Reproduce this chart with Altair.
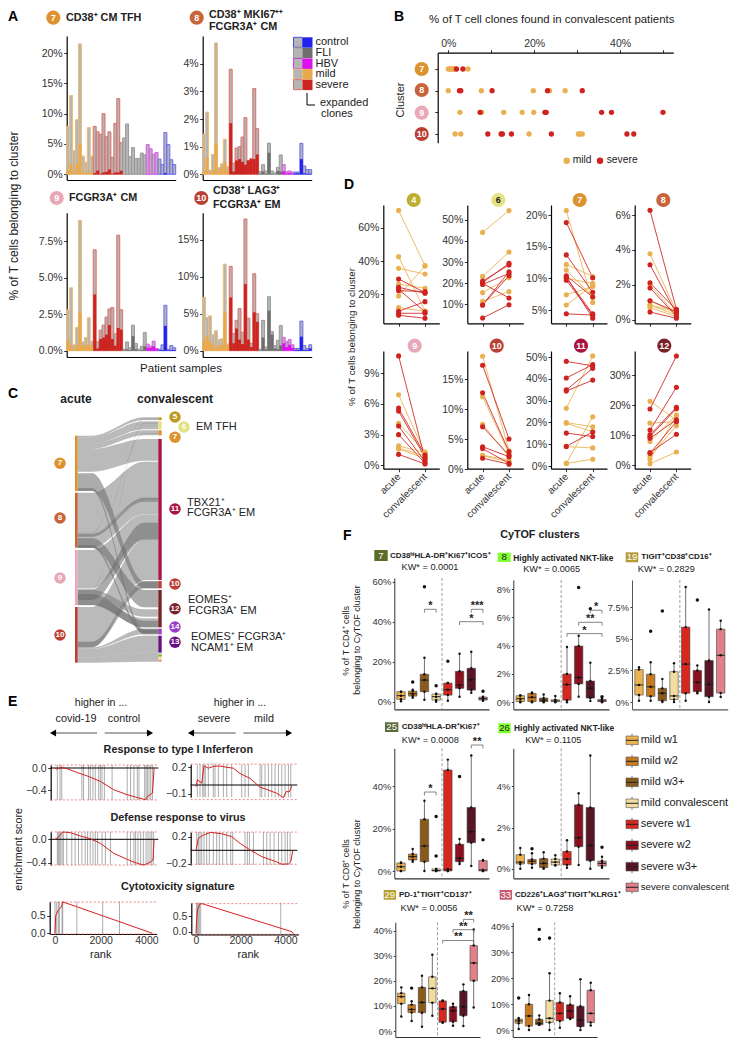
import altair as alt
import pandas as pd

FONT = "Liberation Sans"
W, H = 722, 1030
ONE = pd.DataFrame({"n": [0]})
L = []

CC = {4: "#bdb030", 5: "#c09a20", 6: "#e3e382", 7: "#dd9230", 8: "#c9633a", 9: "#e8a8b8",
      10: "#b94033", 11: "#a81540", 12: "#7a2028", 13: "#6a0f80", 14: "#9a3ec8"}
MILD, SEVERE = "#e9b04f", "#cf2320"

# ---------------------------------------------------------------- panel A data
A_GROUPS = ["mild"] * 9 + ["severe"] * 10 + ["FLI"] * 8 + ["HBV"] * 4 + ["control"] * 6
A7_TOTAL = [7.9, 13, 3.9, 9, 21.5, 3, 2, 7.7, 3, 7.9, 7, 6.6, 10, 6.2, 7, 2.8, 8.4, 12.5, 5.2,
            6.0, 8.3, 2.9, 4.4, 2.6, 2.6, 3.5, 3.2, 4.9, 4.2, 3.3, 3.6, 2.5, 1.6, 6.9, 4.9, 2.4, 1.6]
A7_EXP = [0.7, 1.7, 0.2, 1.7, 5.0, 0.3, 0.2, 0.5, 0.2, 0.2, 0.6, 0.1, 0.3, 0.4, 0.8, 0.1, 0.3, 0.3, 0.6,
          0, 0, 0, 0, 0, 0, 0, 0, 0, 0, 0, 0, 0, 0, 0.2, 0, 0, 0]
A8_TOTAL = [1.45, 2.25, 0.15, 0.72, 4.75, 0.25, 0.38, 1.27, 0.27, 3.8, 0.4, 0.95, 1.0, 1.35, 2.05, 0.5, 0.57, 3.1, 1.65,
            0.1, 0.35, 0.12, 1.13, 0.12, 0.05, 0.25, 0.7, 0.35, 0.1, 0.12, 0.08, 0.08, 0.08, 1.12, 0.3, 0.17, 0.17]
A8_EXP = [0.1, 0.6, 0.03, 0.15, 1.1, 0.1, 0.25, 0.45, 0.1, 1.85, 0.1, 0.5, 0.55, 0.45, 0.35, 0.5, 0.55, 0.55, 0.72,
          0.02, 0.1, 0.02, 0.78, 0.02, 0, 0.12, 0.1, 0.1, 0.03, 0.05, 0.02, 0.03, 0.03, 0.55, 0.03, 0.02, 0.02]
A9_TOTAL = [2.8, 4.3, 0.4, 1.6, 8.9, 0.6, 0.9, 2.25, 0.65, 6.9, 0.6, 1.4, 1.75, 2.3, 2.85, 2.95, 1.15, 7.9, 2.8,
            0.1, 0.6, 0.2, 1.75, 0.5, 0.1, 0.3, 1.25, 0.45, 0.3, 0.65, 0.15, 0.1, 0.4, 3.1, 0.1, 0.35, 0.2]
A9_EXP = [0.7, 0.35, 0.1, 0.35, 2.6, 0.35, 0.35, 0.45, 0.3, 3.85, 0.15, 0.8, 0.9, 1.1, 1.75, 0.8, 0.35, 1.55, 1.45,
          0.02, 0.1, 0.05, 1.0, 0.1, 0.02, 0.05, 0.3, 0.2, 0.2, 0.3, 0.1, 0.03, 0.05, 1.7, 0.03, 0.05, 0.05]
A10_TOTAL = [7.2, 4.5, 4.7, 2.2, 2.7, 1.5, 1.6, 11.7, 0.9, 11.4, 2.3, 4.1, 5.7, 2.5, 17.8, 4.4, 1.0, 10.4, 5.0,
             0.2, 4.1, 0.5, 7.3, 2.6, 0.7, 1.4, 3.4, 1.8, 1.2, 1.5, 0.8, 0.3, 0.3, 4.0, 0.7, 0.3, 0.8]
A10_EXP = [1.3, 2.0, 1.2, 0.8, 0.3, 0.7, 0.8, 5.2, 0.7, 7.2, 1.0, 3.0, 1.5, 0.9, 9.0, 1.5, 0.5, 5.2, 3.9,
           0.05, 1.8, 0.2, 5.4, 2.2, 0.3, 0.2, 0.7, 1.0, 0.5, 0.8, 0.4, 0.1, 0.1, 1.9, 0.1, 0.1, 0.3]
A_NAMES = ["mild", "severe", "FLI", "HBV", "control"]
A_OUT = ["#ecbd78", "#dc7068", "#999999", "#dd55ee", "#6a6aee"]
A_FILL = ["#e8a94c", "#cc2420", "#6e6e6e", "#dd11ee", "#2222ee"]

# ---------------------------------------------------------------- panel B data
B_MILD = [(0, 0), (0, 0.3), (0, 0.6), (0, 1), (0, 1.3), (0, 1.6), (0, 4.6),
          (1, 0), (1, 7.7), (1, 19.8), (1, 23.6), (1, 27.2),
          (2, 2.7), (2, 7.8), (2, 12.9), (2, 17.2), (2, 19.9),
          (3, 1.6), (3, 2.9), (3, 18.8), (3, 30.3), (3, 30.6), (3, 31.2)]
B_SEVERE = [(0, 1.9), (0, 3.4),
            (1, 2.6), (1, 2.9), (1, 10.2), (1, 23.1), (1, 31.2),
            (2, 7.4), (2, 22.5), (2, 22.8), (2, 35.7), (2, 38), (2, 50),
            (3, 9.2), (3, 12.3), (3, 12.6), (3, 14.7), (3, 24), (3, 41.6), (3, 43.2)]

# ---------------------------------------------------------------- panel C data
FLOWS = [(197, 203, 142, 150), (203, 222, 154, 178), (222, 237, 181, 196), (237, 305, 207, 272),
         (368, 487, 275, 392), (492, 533, 393, 432), (540, 655, 433, 508), (711, 832, 510, 630),
         (660, 680, 718, 740), (680, 705, 745, 772),
         (836, 862, 797, 847), (862, 878, 847, 875), (832, 836, 776, 793),
         (487, 489, 146, 148), (656, 657, 165, 166), (533, 534, 190, 191), (705, 706, 160, 161)]
DARK_FLOWS = [(310, 362, 633, 655), (505, 533, 660, 712), (658, 690, 458, 510), (672, 705, 752, 772),
              (815, 832, 635, 655), (488, 500, 383, 395), (355, 363, 776, 793), (525, 533, 780, 790)]
LEFT_NODES = [(197, 363, 7), (368, 533, 8), (540, 705, 9), (711, 878, 10)]
RIGHT_NODES = [(142, 150, 5), (154, 178, 6), (181, 196, 7), (207, 630, 11), (633, 655, 10),
               (660, 772, 12), (776, 793, 14), (797, 847, 13)]
RIGHT_SMALL = [(847, 850, "#3b7fc4"), (853, 860, "#b5a020"), (863, 866, "#e8b060"), (869, 875, "#f09070")]

# ---------------------------------------------------------------- panel D data
D4_M = [(70.4, 37.2), (42.6, 10), (35.6, 32.2), (26.2, 23.6), (19, 37), (12, 9.8)]
D4_S = [(29.2, 21), (24.2, 20.6), (23, 9.4), (22.2, 21.6), (9.8, 15.6), (8.6, 8.6), (7.4, 5.6)]
D6_M = [(44, 54.3), (23.2, 34.7), (15.5, 22.6), (11.4, 16)]
D6_S = [(21, 28.6), (20.2, 29.4), (19.4, 24.6), (9.7, 23.5), (9.7, 25.4), (19.9, 13), (3.5, 9.8)]
D7_M = [(20.7, 6.2), (12.2, 10.3), (11.3, 7.1), (10, 9.2), (7.4, 8.7), (5.8, 8.9)]
D7_S = [(18.8, 10.1), (13.7, 7.8), (10.4, 7.05), (10.1, 4.4), (9.7, 4.2), (4.4, 4.2), (10.3, 3.7)]
D8_M = [(3.77, 0.46), (2, 0.27), (1.09, 0.36), (0.84, 0.27), (0.7, 0.17), (0.84, 0.46)]
D8_S = [(6.27, 0.6), (3.15, 0.36), (2.12, 0.55), (1.82, 0.21), (1.09, 0.46), (0.44, 0.08)]
D9_M = [(6.9, 1.17), (4.1, 1.3), (1.9, 1.24), (1.7, 0.92), (1.6, 0.68)]
D9_S = [(10.7, 0.6), (5.6, 1.0), (5.3, 0.78), (3.85, 0.36), (3.0, 0.2), (1.07, 0.13)]
D10_M = [(18.8, 3.05), (12.05, 2.6), (7.45, 2.05), (2.3, 1.5), (2.2, 1.2)]
D10_S = [(17.3, 5), (12.7, 2.9), (7.05, 2.3), (3.7, 2.05), (3.4, 0.95), (1.8, 0.8)]
D11_M = [(26.5, 50.5), (19.9, 18), (19.6, 15.7), (8.9, 8.3), (1.2, 22.6), (1.2, 3.1)]
D11_S = [(48, 45.9), (40.4, 46.5), (34.9, 44.8), (34.4, 39.4), (15.1, 13.5), (9, 15.6)]
D12_M = [(21.3, 15), (14, 14.5), (7.9, 16.7), (2.9, 13.1), (2, 16.4), (0.55, 4.4)]
D12_S = [(18.7, 36.3), (11.7, 25.9), (10.1, 19.3), (9.5, 18.8), (9, 15.1), (4.2, 10.3), (4, 14.5)]

# ---------------------------------------------------------------- panel E data
E1_RANK = [0, 74, 294, 515, 956, 1397, 1985, 2573, 3160, 3602, 3969, 4043, 4263, 4307, 4337]
E1_ES = [0, -0.02, 0.01, -0.01, -0.08, -0.14, -0.24, -0.39, -0.48, -0.53, -0.57, -0.51, -0.45, -0.21, 0.01]
E1_HITS = [103, 220, 294, 1176, 1250, 1470, 1544, 1661, 1764, 1911, 1985, 2058, 2161, 2499, 3160, 3308,
           3455, 3602, 3675, 3925, 3984, 4043, 4116, 4190, 4263]
E2_RANK = [0, 60, 254, 358, 552, 776, 1075, 1374, 1672, 1971, 2419, 2867, 3165, 3613, 3912, 4031, 4180, 4285]
E2_ES = [-0.02, 0.06, 0.02, 0.215, 0.19, 0.21, 0.215, 0.2, 0.19, 0.13, 0.075, -0.026, -0.05, -0.094, -0.143, -0.075, -0.075, -0.011]
E2_HITS = [60, 179, 299, 358, 418, 552, 776, 851, 1000, 1224, 1374, 1598, 2045, 2195, 2344, 2867, 2941,
           3090, 3240, 3389, 3538, 3688, 3837, 3986, 4135, 4240]
E3_RANK = [0, 147, 338, 662, 1103, 1544, 1985, 2573, 3160, 3602, 3896, 4116, 4292, 4337]
E3_ES = [0, 0.034, 0.126, 0.114, 0.057, 0.011, -0.069, -0.24, -0.343, -0.411, -0.44, -0.4, -0.354, 0]
E3_HITS = [103, 147, 191, 250, 309, 367, 514, 735, 882, 1029, 1176, 1323, 1426, 1544, 1661, 1764, 1867,
           2058, 2205, 2426, 3160, 3308, 3455, 3528, 3631, 3749, 3866, 3984, 4072, 4160, 4234, 4307]
E4_RANK = [0, 105, 328, 657, 1150, 1598, 1971, 2419, 2941, 3613, 3837, 4135, 4240, 4330]
E4_ES = [0, 0.176, 0.224, 0.263, 0.244, 0.2, 0.102, 0.005, -0.093, -0.171, -0.205, -0.2, -0.166, -0.005]
E4_HITS = [30, 105, 179, 254, 358, 478, 597, 776, 925, 1045, 1194, 1374, 1553, 1643, 2195, 2299, 2389,
           2568, 3016, 3165, 3314, 3493, 3688, 3837, 3986, 4090, 4210]
E5_RANK = [0, 30, 147, 250, 294, 338, 956, 4263]
E5_ES = [0, 0.5, 0.66, 0.72, 0.78, 0.89, 0.755, 0]
E5_HITS = [0, 74, 147, 191, 309, 338, 956, 2087, 2822]
E6_RANK = [0, 30, 60, 179, 269, 4285, 4360]
E6_ES = [-0.05, 0.4, 0.69, 0.88, 0.894, 0, -0.07]
E6_HITS = [30, 60, 105, 149, 209, 3792]

# ---------------------------------------------------------------- panel F data  (lo, q1, med, q3, hi, outliers)
BOX_NAMES = ["mild w1", "mild w2", "mild w3+", "mild convalescent", "severe w1", "severe w2", "severe w3+", "severe convalescent"]
BOX_COLORS = ["#edb350", "#c77a20", "#8a5a1a", "#f2dca0", "#d6281f", "#8b1020", "#571526", "#e08088"]
F7 = [(0.2, 1.2, 3, 5, 5, []), (2, 2.8, 4, 5.3, 6, [9.8]), (1, 5, 10.8, 13.7, 22, [57.5]), (0, 0.8, 2.5, 3.8, 4, [8]),
      (0.5, 3.3, 6, 9.3, 9.3, [20.2]), (2.5, 6.7, 8.3, 15.2, 24, []), (4.5, 5.8, 11, 16.7, 25, []), (0.5, 0.8, 1.5, 2.3, 2.5, [5.2])]
F8 = [(0, 0.05, 0.25, 0.47, 0.5, []), (0, 0.05, 0.35, 0.63, 0.7, []), (0, 0.05, 0.15, 0.3, 0.55, []), (0, 0.05, 0.1, 0.18, 0.45, []),
      (0, 0.15, 1.25, 2.0, 3.9, []), (0.4, 1.3, 1.75, 3.97, 4.7, [8.1]), (0.1, 0.3, 1.0, 1.5, 2.8, [6.6]), (0, 0.05, 0.1, 0.2, 0.25, [0.4])]
F19 = [(0.1, 0.55, 1.35, 2.57, 2.75, []), (0.1, 0.45, 1.2, 2.2, 3.15, [5.6]), (0, 0.1, 0.7, 1.08, 1.83, [7.2]), (0, 0.2, 0.48, 2.4, 3.07, []),
       (0.1, 0.69, 3, 5.93, 9.1, []), (0.7, 0.82, 1.56, 2.5, 2.9, [8.07]), (0, 0.42, 1.4, 3.28, 7.33, []), (0.4, 0.71, 3.7, 5.77, 6.43, [])]
F25 = [(0, 0, 2, 3.8, 4, []), (4.4, 5.2, 6.8, 8, 10.4, []), (0, 4.4, 11.8, 24.4, 33.2, []), (0, 0, 0.2, 1, 1, [25.7, 7.1]),
       (0, 0, 0.8, 47.7, 52.6, []), (3.3, 4.4, 6, 12.6, 15.1, [44.6]), (2.4, 13.4, 18.6, 30, 54.5, []), (0, 0, 0.5, 4.9, 5.2, [14.8])]
F26 = [(0, 0.23, 0.32, 0.68, 1, []), (0.05, 0.23, 0.36, 0.45, 0.75, [0.97]), (0, 0.05, 0.26, 0.49, 0.8, []), (0.15, 0.18, 0.32, 0.47, 0.65, []),
       (0.05, 0.18, 0.47, 0.84, 1.38, []), (0.18, 1.07, 1.5, 3.1, 3.66, []), (0, 0.39, 1.13, 2.97, 5.5, []), (0.05, 0.13, 0.26, 0.37, 0.58, [1.04])]
F29 = [(5.8, 10.9, 13.7, 15.1, 17.4, []), (4, 7.4, 8.6, 10.5, 11.9, [17.1]), (1.7, 7.3, 11.4, 17.4, 22, []), (6.1, 11.3, 17, 21.6, 30.4, []),
       (3.3, 3.5, 8.8, 12, 12.2, []), (2.1, 3.7, 8.1, 9.7, 10.9, []), (2, 6.1, 9.7, 15.9, 18.6, []), (9.4, 20, 27.1, 34.1, 40.5, [])]
F33 = [(0.4, 2.6, 3.5, 4.2, 4.6, [12.3]), (0, 1.5, 5.4, 9.9, 13.5, []), (2, 2, 2.6, 4.1, 5.6, [38.7, 34.9]), (0, 2.9, 4.5, 11.3, 21.8, [35.4]),
       (0.9, 3.5, 6.4, 10.6, 14.1, []), (4.2, 4.5, 7.3, 9.7, 13, []), (0, 1.3, 3.8, 9.1, 19.5, []), (1.7, 2.9, 6.4, 15.3, 18.2, [])]
# brackets: first box, last box, height, tip height, stars
F7_BR = [(3, 4, 46.2, 44.5, "*"), (7, 8, 46.2, 44.5, "***"), (6, 8, 40, 38.3, "*")]
F8_BR = [(7, 8, 6.5, 6.27, "*"), (6, 8, 5.65, 5.42, "**"), (5, 8, 4.85, 4.62, "*")]
F25_BR = [(3, 4, 37.3, 35.7, "*"), (7, 8, 59.5, 57.9, "**")]
F29_BR = [(7, 8, 44.5, 43.3, "**"), (6, 8, 40.4, 39.2, "**"), (5, 8, 36.1, 34.9, "**")]

# ---------------------------------------------------------------- helpers
AX = dict(title=None, grid=False, domainColor="black", domainWidth=1.2, tickColor="black", tickSize=3,
          tickWidth=0.8, labelColor="#333333", labelFontSize=10.5, labelPadding=1.5, labelFont=FONT)
PCT = "datum.value + '%'"


def scale(a, b, v0, p0, v1, p1):
    k = (v1 - v0) / (p1 - p0)
    return alt.Scale(domain=[v0 + (a - p0) * k, v0 + (b - p0) * k], range=[a - 8, b - 8], nice=False, zero=False)


def yaxis(px, values, expr=PCT, **k):
    return alt.Axis(orient="left", offset=-(px - 8), values=values, labelExpr=expr, **{**AX, **k})


def xaxis(py, values=None, expr=None, **k):
    d = {**AX, **k}
    if values is not None:
        d["values"] = values
    if expr is not None:
        d["labelExpr"] = expr
    return alt.Axis(orient="bottom", offset=py - 8 - H, **d)


def T(s, x, y, size=9.5, weight="normal", align="left", color="#222222", angle=0):
    L.append(alt.Chart(ONE).mark_text(text=s, fontSize=size, fontWeight=weight, align=align, baseline="middle",
                                      color=color, angle=angle, font=FONT)
             .encode(x=alt.value(x - 8), y=alt.value(y - 8)))


def badge(n, x, y, r=8, tc="white", size=9):
    L.append(alt.Chart(ONE).mark_circle(size=3.1416 * r * r, color=CC[n], opacity=1)
             .encode(x=alt.value(x - 8), y=alt.value(y - 8)))
    T(str(n), x, y, size=size, weight="bold", align="center", color=tc)


def rect(x0, x1, y0, y1, color, **k):
    L.append(alt.Chart(ONE).mark_rect(color=color, **k)
             .encode(x=alt.value(x0 - 8), x2=alt.value(x1 - 8), y=alt.value(y0 - 8), y2=alt.value(y1 - 8)))


def rule(x0, x1, y0, y1, color="black", width=1, **k):
    L.append(alt.Chart(ONE).mark_rule(color=color, strokeWidth=width, **k)
             .encode(x=alt.value(x0 - 8), x2=alt.value(x1 - 8), y=alt.value(y0 - 8), y2=alt.value(y1 - 8)))


# ---------------------------------------------------------------- panel A
def bars(total, exp, x0, x1, ybot, ytop, cal, ticks, expr=PCT):
    df = pd.DataFrame({"i": range(37), "j": range(1, 38), "group": A_GROUPS, "total": total, "exp": exp, "zero": 0.0})
    xs = alt.Scale(domain=[0, 37], range=[x0 - 8, x1 - 8], nice=False, zero=False)
    ys = scale(ybot, ytop, *cal)
    L.append(alt.Chart(df).mark_rect(fill="#b5b5b5", strokeWidth=1).encode(
        x=alt.X("i:Q", scale=xs, axis=xaxis(ybot, ticks=False, labels=False, values=[])),
        x2="j:Q",
        y=alt.Y("total:Q", scale=ys, axis=yaxis(x0, ticks, expr)),
        y2="zero:Q",
        stroke=alt.Stroke("group:N", scale=alt.Scale(domain=A_NAMES, range=A_OUT), legend=None)))
    L.append(alt.Chart(df).mark_rect(strokeWidth=0).encode(
        x=alt.X("i:Q", scale=xs, axis=None), x2="j:Q",
        y=alt.Y("exp:Q", scale=ys, axis=None), y2="zero:Q",
        color=alt.Color("group:N", scale=alt.Scale(domain=A_NAMES, range=A_FILL), legend=None)))


bars(A7_TOTAL, A7_EXP, 66.7, 175.7, 180, 36, (0, 174.3, 20, 53), [0, 5, 10, 15, 20])
bars(A8_TOTAL, A8_EXP, 202.7, 311.7, 180, 36, (0, 174.3, 4, 63.7), [0, 1, 2, 3, 4])
bars(A9_TOTAL, A9_EXP, 66.7, 175.7, 357, 212.7, (0, 350.7, 7.5, 241), [0, 2.5, 5, 7.5], "format(datum.value,'.1f') + '%'")
bars(A10_TOTAL, A10_EXP, 202.7, 311.7, 357, 212.7, (0, 350.7, 15, 239.7), [0, 5, 10, 15])
T("A", 8, 16.5, size=14, weight="bold", color="black")
badge(7, 53.3, 17.7)
T("CD38⁺ CM TFH", 66, 17.5, size=10.8, weight="bold")
badge(8, 196.7, 17.7)
T("CD38⁺ MKI67⁺⁺", 209, 15, size=10.8, weight="bold")
T("FCGR3A⁺ CM", 209, 26.5, size=10.8, weight="bold")
badge(9, 56.7, 198)
T("FCGR3A⁺ CM", 69, 198, size=10.8, weight="bold")
badge(10, 201.3, 198)
T("CD38⁺ LAG3⁺", 213, 191, size=10.8, weight="bold")
T("FCGR3A⁺ EM", 213, 204.5, size=10.8, weight="bold")
for k, (name, out, fill) in enumerate(zip(["control", "FLI", "HBV", "mild", "severe"],
                                          ["#4a4aee", "#999999", "#cc44dd", "#ecbd78", "#dc7068"],
                                          ["#2222ee", "#6e6e6e", "#dd11ee", "#e8a94c", "#cc2420"])):
    y = 37.3 + k * 10.6
    rect(293.5, 302.5, y, y + 10, "#b5b5b5", stroke=out, strokeWidth=1)
    rect(303, 312.5, y, y + 10.4, fill)
    T(name, 315.5, y + 5, size=11)
rule(307, 307, 93, 105, width=1)
rule(307, 315, 105, 105, width=1)
T("expanded", 320, 102.5, size=11)
T("clones", 321, 113.5, size=11)
T("Patient samples", 181, 369, size=11.5, align="center")
T("% of T cells belonging to cluster", 14, 216, size=12, align="center", angle=270)

# ---------------------------------------------------------------- panel B
bdf = pd.DataFrame([(r, v, "mild") for r, v in B_MILD] + [(r, v, "severe") for r, v in B_SEVERE], columns=["row", "pct", "g"])
L.append(alt.Chart(bdf).mark_circle(size=28, opacity=1).encode(
    x=alt.X("pct:Q", scale=scale(437.7, 673.3, 0, 448.3, 50, 663),
            axis=alt.Axis(orient="top", offset=-(52.7 - 8), values=[0, 10, 20, 30, 40, 50],
                          labelExpr="datum.value == 0 || datum.value == 20 || datum.value == 40 ? datum.value + '%' : ''", **AX)),
    y=alt.Y("row:Q", scale=scale(142.7, 52.7, 0, 69, 3, 134), axis=yaxis(437.7, [0, 1, 2, 3], "''")),
    color=alt.Color("g:N", scale=alt.Scale(domain=["mild", "severe"], range=[MILD, SEVERE]), legend=None)))
T("B", 394, 16.5, size=14, weight="bold", color="black")
T("% of T cell clones found in convalescent patients", 551.7, 20, size=11.4, align="center")
T("Cluster", 400.7, 100, size=11, align="center", angle=270)
for n, y in zip([7, 8, 9, 10], [69, 90, 112.7, 134]):
    badge(n, 421.7, y)
L.append(alt.Chart(ONE).mark_circle(size=42, color=MILD, opacity=1).encode(x=alt.value(558.7), y=alt.value(152.7)))
L.append(alt.Chart(ONE).mark_circle(size=42, color=SEVERE, opacity=1).encode(x=alt.value(592), y=alt.value(152.7)))
T("mild", 572.7, 160, size=10.3)
T("severe", 606.7, 160, size=10.3)


# ---------------------------------------------------------------- panel C
def flow_layer(flows, color, opacity):
    fs = []
    for idx, (a, b, c, d) in enumerate(flows):
        for t, lo, hi in [(0, a, b), (0.18, a, b), (0.82, c, d), (1, c, d)]:
            fs.append({"flow": idx, "t": t, "top": lo, "bot": hi})
    cy = alt.Scale(domain=[0, 1000], range=[370 - 8, 370 + 1000 / 3 - 8], nice=False, zero=False)
    L.append(alt.Chart(pd.DataFrame(fs)).mark_area(interpolate="monotone", color=color, opacity=opacity, strokeWidth=0).encode(
        x=alt.X("t:Q", scale=alt.Scale(domain=[0, 1], range=[69.7, 150.3], nice=False, zero=False), axis=None),
        y=alt.Y("top:Q", scale=cy, axis=None), y2="bot:Q", detail="flow:N"))


flow_layer(FLOWS + DARK_FLOWS, "#757575", 0.5)
flow_layer(DARK_FLOWS, "#5f5f5f", 0.15)
for (a, b, c) in LEFT_NODES:
    rect(75, 77.7, 370 + a / 3, 370 + b / 3, CC[c])
for (a, b, c) in RIGHT_NODES:
    rect(158.3, 161.7, 370 + a / 3, 370 + b / 3, CC[c])
for (a, b, c) in RIGHT_SMALL:
    rect(158.3, 161.7, 370 + a / 3, 370 + b / 3, c)
T("C", 8, 394, size=14, weight="bold", color="black")
T("acute", 76, 399, size=12, weight="bold", align="center")
T("convalescent", 175, 399, size=12, weight="bold", align="center")
for n, y in zip([7, 8, 9, 10], [463.3, 518, 578, 635]):
    badge(n, 60, y, r=6.5, size=8)
badge(5, 175, 417, r=6.5, size=8)
badge(7, 175, 437.3, r=6.5, size=8)
badge(6, 184, 427, r=6.5, size=8)
for n, y in zip([11, 10, 12, 14, 13], [509, 584, 608.7, 627, 642.3]):
    badge(n, 175, y, r=6.5, size=8)
T("EM TFH", 196, 426.7, size=11)
T("TBX21⁺", 187, 502.7, size=11)
T("FCGR3A⁺ EM", 187, 513, size=11)
T("EOMES⁺", 188, 600, size=11)
T("FCGR3A⁺ EM", 188.5, 611, size=11)
T("EOMES⁺ FCGR3A⁺", 191, 637, size=11)
T("NCAM1⁺ EM", 191, 648, size=11)


# ---------------------------------------------------------------- panel D
def pairs(mild, severe, x0, top, bot, cal, ticks, labels):
    rows = []
    for g, data in (("mild", mild), ("severe", severe)):
        for i, (a, c) in enumerate(data):
            rows.append({"p": f"{g}{i}", "g": g, "s": 0, "v": a})
            rows.append({"p": f"{g}{i}", "g": g, "s": 1, "v": c})
    df = pd.DataFrame(rows)
    xs = scale(x0, x0 + 56, 0, x0 + 15.3, 1, x0 + 41.7)
    ys = scale(bot, top, *cal)
    col = alt.Scale(domain=["mild", "severe"], range=[MILD, SEVERE])
    xa = xaxis(bot, [0, 1], "datum.value == 0 ? 'acute' : 'convalescent'", labelAngle=315, labelAlign="right",
               labelBaseline="middle", labelFontSize=10, labels=labels, labelPadding=3)
    L.append(alt.Chart(df).mark_line(strokeWidth=1, opacity=0.85).encode(
        x=alt.X("s:Q", scale=xs, axis=xa), y=alt.Y("v:Q", scale=ys, axis=yaxis(x0, ticks)),
        detail="p:N", color=alt.Color("g:N", scale=col, legend=None)))
    L.append(alt.Chart(df).mark_circle(size=26, opacity=1).encode(
        x=alt.X("s:Q", scale=xs, axis=None), y=alt.Y("v:Q", scale=ys, axis=None),
        color=alt.Color("g:N", scale=col, legend=None)))


DX = [383.3, 467.3, 551, 634.7]
pairs(D4_M, D4_S, DX[0], 205, 323.3, (20, 294.3, 40, 261), [20, 40, 60], False)
pairs(D6_M, D6_S, DX[1], 205, 323.3, (10, 304.3, 50, 219.7), [10, 20, 30, 40, 50], False)
pairs(D7_M, D7_S, DX[2], 205, 323.3, (5, 310, 20, 215), [5, 10, 15, 20], False)
pairs(D8_M, D8_S, DX[3], 205, 323.3, (0, 319.7, 6, 215), [0, 2, 4, 6], False)
pairs(D9_M, D9_S, DX[0], 351, 468.7, (0, 465.3, 9, 373.3), [0, 3, 6, 9], True)
pairs(D10_M, D10_S, DX[1], 351, 468.7, (0, 469, 15, 379), [0, 5, 10, 15], True)
pairs(D11_M, D11_S, DX[2], 351, 468.7, (0, 466, 50, 357), [0, 10, 20, 30, 40, 50], True)
pairs(D12_M, D12_S, DX[3], 351, 468.7, (0, 465.3, 30, 375), [0, 10, 20, 30], True)
T("D", 344, 185, size=14, weight="bold", color="black")
T("% of T cells belonging to cluster", 351.5, 337, size=9.8, align="center", angle=270)
for n, x in zip([4, 6, 7, 8], [413.7, 498.3, 579.7, 663.3]):
    badge(n, x, 200, tc="#222222" if n == 6 else "white")
for n, x in zip([9, 10, 11, 12], [414.7, 496.7, 581, 664.3]):
    badge(n, x, 345.7)


# ---------------------------------------------------------------- panel E
def gsea(rank, es, hits, x0, x1, top, bot, xcal, ycal, ticks, hi, lo, zero=True, xticks=False):
    xs = scale(x0, x1, *xcal)
    ys = scale(bot, top, *ycal)
    L.append(alt.Chart(pd.DataFrame({"r": hits})).mark_rule(color="#666666", strokeWidth=0.9, opacity=0.6).encode(
        x=alt.X("r:Q", scale=xs, axis=None), y=alt.value(top - 8), y2=alt.value(bot - 8)))
    for v in (hi, lo):
        L.append(alt.Chart(pd.DataFrame({"v": [v]})).mark_rule(color="#e8686a", strokeWidth=0.8, strokeDash=[2, 2]).encode(
            y=alt.Y("v:Q", scale=ys, axis=None), x=alt.value(x0 - 8), x2=alt.value(x1 - 8)))
    if zero:
        L.append(alt.Chart(pd.DataFrame({"v": [0.0]})).mark_rule(color="black", strokeWidth=1).encode(
            y=alt.Y("v:Q", scale=ys, axis=None), x=alt.value(x0 - 8), x2=alt.value(x1 - 8)))
    xa = xaxis(bot, [0, 2000, 4000], "format(datum.value, 'd')", tickSize=0) if xticks else None
    L.append(alt.Chart(pd.DataFrame({"r": rank, "e": es})).mark_line(color="#d62020", strokeWidth=1).encode(
        x=alt.X("r:Q", scale=xs, axis=xa),
        y=alt.Y("e:Q", scale=ys, axis=yaxis(x0, ticks, "format(datum.value, '.1f')"))))


XL = (0, 55, 2000, 100.7)
XR = (0, 196, 2000, 240.7)
gsea(E1_RANK, E1_ES, E1_HITS, 50.7, 158.3, 765, 800, XL, (0, 768, -0.4, 790.3), [0, -0.4], 0.054, -0.573)
gsea(E2_RANK, E2_ES, E2_HITS, 190.7, 297.3, 764.3, 797.3, XR, (0, 785, 0.2, 767.3), [0.2, -0.1], 0.236, -0.165)
gsea(E3_RANK, E3_ES, E3_HITS, 50.7, 158.3, 831.7, 865, XL, (0, 839.3, -0.4, 862.7), [0, -0.4], 0.126, -0.44)
gsea(E4_RANK, E4_ES, E4_HITS, 190.7, 297.3, 832, 865, XR, (0, 850.3, 0.2, 836.7), [0.2, -0.2], 0.268, -0.205)
gsea(E5_RANK, E5_ES, E5_HITS, 49.7, 156.7, 901.7, 934, XL, (0, 933.3, 0.5, 915.7), [0, 0.5], 0.887, -0.02, False, True)
gsea(E6_RANK, E6_ES, E6_HITS, 191.3, 298.3, 902.7, 934.3, XR, (0, 931.7, 0.5, 916), [0, 0.5], 0.894, -0.085, False, True)
T("E", 8, 702, size=14, weight="bold", color="black")
T("higher in ...", 101, 702.7, size=10.6, align="center")
T("higher in ...", 240, 702.7, size=10.6, align="center")
for s, x in zip(["covid-19", "control", "severe", "mild"], [76, 124, 214, 264]):
    T(s, x, 719.3, size=10.8, align="center")
for a, b, shape in [(97, 53, "triangle-left"), (104.7, 150, "triangle-right"), (235.7, 191, "triangle-left"), (243.3, 289, "triangle-right")]:
    rule(a, b, 733, 733, color="#555555", width=1.2)
    L.append(alt.Chart(ONE).mark_point(shape=shape, filled=True, size=50, color="black", opacity=1, strokeWidth=0)
             .encode(x=alt.value(b - 8), y=alt.value(733 - 8)))
T("Response to type I Inferferon", 178.3, 750, size=10.8, weight="bold", align="center")
T("Defense response to virus", 178, 817.7, size=10.8, weight="bold", align="center")
T("Cytotoxicity signature", 177.7, 887.3, size=10.8, weight="bold", align="center")
T("enrichment score", 19, 849.3, size=10.8, align="center", angle=270)
T("rank", 100.7, 955.3, size=11, align="center")
T("rank", 248.3, 955.3, size=11, align="center")


# ---------------------------------------------------------------- panel F
def boxes(stats, x0, x1, top, bot, xcal, ycal, ticks, brackets=(), axcolor="#333333"):
    rows, dots, outs = [], [], []
    for i, (lo, q1, med, q3, hi, out) in enumerate(stats):
        p = i + 1
        rows.append(dict(p=p, a=p - 0.36, b=p + 0.36, lo=lo, q1=q1, med=med, q3=q3, hi=hi, name=BOX_NAMES[i]))
        dots += [dict(p=p, v=v) for v in (lo, q1, med, q3, hi)]
        outs += [dict(p=p, v=v) for v in out]
    df = pd.DataFrame(rows)
    xs = scale(x0, x1, *xcal)
    ys = scale(bot, top, *ycal)
    L.append(alt.Chart(pd.DataFrame({"p": [4.5]})).mark_rule(color="#888888", strokeWidth=0.8, strokeDash=[3, 2]).encode(
        x=alt.X("p:Q", scale=xs, axis=None), y=alt.value(top - 8), y2=alt.value(bot - 8)))
    L.append(alt.Chart(df).mark_rule(color="#333333", strokeWidth=0.7).encode(
        x=alt.X("p:Q", scale=xs, axis=xaxis(bot, ticks=False, labels=False, values=[], domainColor=axcolor)),
        y=alt.Y("lo:Q", scale=ys, axis=yaxis(x0, ticks, PCT, domainColor=axcolor, tickSize=2, labelFontSize=9.4, domainWidth=1)), y2="hi:Q"))
    L.append(alt.Chart(df).mark_rect(stroke="#444444", strokeWidth=0.6).encode(
        x=alt.X("a:Q", scale=xs, axis=None), x2="b:Q",
        y=alt.Y("q1:Q", scale=ys, axis=None), y2="q3:Q",
        color=alt.Color("name:N", scale=alt.Scale(domain=BOX_NAMES, range=BOX_COLORS), legend=None)))
    L.append(alt.Chart(df).mark_rule(color="#222222", strokeWidth=1).encode(
        x=alt.X("a:Q", scale=xs, axis=None), x2="b:Q", y=alt.Y("med:Q", scale=ys, axis=None)))
    L.append(alt.Chart(pd.DataFrame(dots)).mark_circle(size=6, color="#111111", opacity=1).encode(
        x=alt.X("p:Q", scale=xs, axis=None), y=alt.Y("v:Q", scale=ys, axis=None)))
    if outs:
        L.append(alt.Chart(pd.DataFrame(outs)).mark_circle(size=12, color="#111111", opacity=1).encode(
            x=alt.X("p:Q", scale=xs, axis=None), y=alt.Y("v:Q", scale=ys, axis=None)))
    for a, b, h, tip, stars in brackets:
        L.append(alt.Chart(pd.DataFrame({"a": [a], "b": [b], "h": [h]})).mark_rule(color="#666666", strokeWidth=0.8).encode(
            x=alt.X("a:Q", scale=xs, axis=None), x2="b:Q", y=alt.Y("h:Q", scale=ys, axis=None)))
        L.append(alt.Chart(pd.DataFrame({"a": [a, b], "h": [h, h], "t": [tip, tip]})).mark_rule(color="#666666", strokeWidth=0.8).encode(
            x=alt.X("a:Q", scale=xs, axis=None), y=alt.Y("h:Q", scale=ys, axis=None), y2="t:Q"))
        L.append(alt.Chart(pd.DataFrame({"m": [(a + b) / 2], "h": [h]})).mark_text(
            text=stars, fontSize=11, fontWeight="bold", color="#222222", dy=-3, font=FONT).encode(
            x=alt.X("m:Q", scale=xs, axis=None), y=alt.Y("h:Q", scale=ys, axis=None)))


def header(txt, color, tc, rx0, rx1, ry0, ry1, label, lx, ly, kw, kx, ky, size=8):
    rect(rx0, rx1, ry0, ry1, color)
    T(txt, (rx0 + rx1) / 2, (ry0 + ry1) / 2, size=9.5, align="center", color=tc)
    T(label, lx, ly, size=size, weight="bold")
    T(kw, kx, ky, size=9.2, align="center")


boxes(F7, 394.3, 489, 578, 709.3, (1, 401, 8, 483), (0, 701.7, 60, 581.7), [0, 20, 40, 60], F7_BR)
boxes(F8, 513.3, 609, 580, 709.3, (1, 520.3, 8, 602), (0, 702.3, 8, 589), [0, 2, 4, 6, 8], F8_BR)
boxes(F19, 632, 727.7, 580, 709.3, (1, 639, 8, 720.7), (0, 702, 7.5, 607.3), [0, 2.5, 5, 7.5], (), "#555555")
boxes(F25, 394.3, 489, 748.3, 878.3, (1, 401, 8, 483), (0, 871, 40, 786.3), [0, 20, 40], F25_BR)
boxes(F26, 513.3, 609, 748.3, 878.3, (1, 520.3, 8, 602), (0, 868.7, 4, 786.3), [0, 2, 4])
boxes(F29, 395.3, 480, 922.3, 1037, (1, 401.3, 8, 473.7), (0, 1031, 40, 930.7), [0, 10, 20, 30, 40], F29_BR)
boxes(F33, 512.7, 597, 922.3, 1037, (1, 518.7, 8, 590.7), (0, 1030, 40, 926), [0, 10, 20, 30, 40])
T("F", 343, 536, size=14, weight="bold", color="black")
T("CyTOF clusters", 540, 535.3, size=10.8, weight="bold", align="center")
header("7", "#5a6b2a", "white", 374.3, 387.7, 550, 561, "CD38ʰⁱHLA-DR⁺Ki67⁺ICOS⁺", 390, 556, "KW* = 0.0001", 430, 567.3)
header("8", "#7fff30", "#222222", 497.7, 510.7, 552.7, 562, "Highly activated NKT-like", 513.3, 558.3, "KW* = 0.0065", 551.7, 569.3, 8.4)
header("19", "#b59a3a", "white", 625.7, 638.3, 552.3, 562.3, "TIGIT⁺CD38⁺CD16⁺", 641.3, 557.3, "KW* = 0.2829", 666.3, 569.3)
header("25", "#5a6b3a", "white", 385, 398.3, 722.3, 732, "CD38ʰⁱHLA-DR⁺Ki67⁺", 401.7, 726.7, "KW* = 0.0008", 430.3, 740.3)
header("26", "#7fff30", "#222222", 498.3, 510.7, 723.3, 733.3, "Highly activated NKT-like", 514, 728.3, "KW* = 0.1105", 553.3, 740.3, 8.4)
header("29", "#b8a030", "white", 383.7, 396, 890, 899.7, "PD-1⁺TIGIT⁺CD137⁺", 399, 895, "KW* = 0.0056", 429, 908)
header("33", "#c85a70", "white", 499.7, 512, 890, 899.7, "CD226⁺LAG3⁺TIGIT⁺KLRG1⁺", 515, 895, "KW* = 0.7258", 545, 908)
T("% of T CD4⁺ cells", 345.7, 640.8, size=9, align="center", angle=270)
T("belonging to CyTOF cluster", 356.7, 640, size=9, align="center", angle=270)
T("% of T CD8⁺ cells", 345.7, 874, size=9, align="center", angle=270)
T("belonging to CyTOF cluster", 356.7, 874, size=9, align="center", angle=270)
for name, color, y in zip(BOX_NAMES, BOX_COLORS, [740.3, 761.3, 782.3, 803.3, 824.3, 845.3, 866.7, 887.3]):
    rule(632, 632, y - 6.5, y + 6.5, color="#444444", width=0.7)
    rect(626, 638.3, y - 4.3, y + 4.3, color, stroke="#555555", strokeWidth=0.6)
    rule(626, 638.3, y, y, color="#222222", width=1)
    T(name, 640.7, y, size=9.7 if name == "severe convalescent" else 11)

chart = (alt.layer(*L)
         .resolve_scale(x="independent", y="independent", color="independent", stroke="independent")
         .properties(width=W, height=H, padding=0, autosize=alt.AutoSizeParams(type="none", contains="padding"))
         .configure_view(stroke=None)
         .configure_axis(grid=False))
chart.save("out.html", embed_options={"renderer": "svg", "actions": False})
